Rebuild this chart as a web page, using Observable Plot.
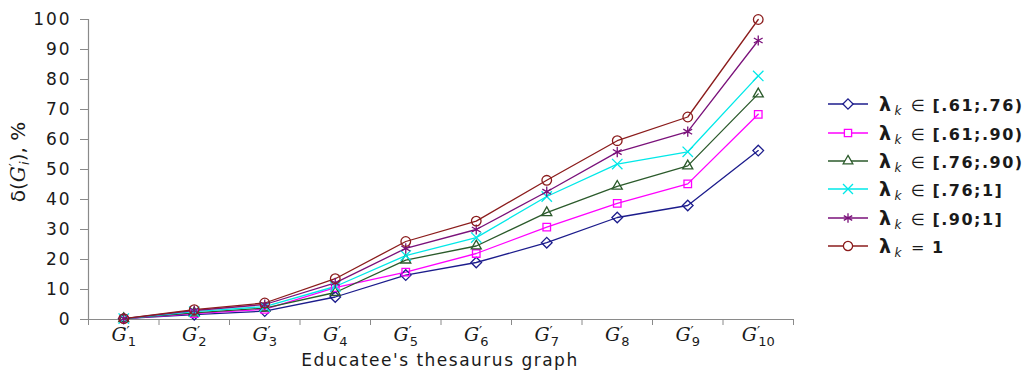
<!DOCTYPE html>
<html>
<head>
<meta charset="utf-8">
<script src="https://cdn.jsdelivr.net/npm/d3@7"></script>
<script src="https://cdn.jsdelivr.net/npm/@observablehq/plot@0.6"></script>
<style>
  html, body { margin: 0; padding: 0; background: #fff; }
  #wrap { position: relative; width: 1030px; height: 371px; overflow: hidden; font-family: "DejaVu Sans", Verdana, sans-serif; }
  #chart { position: absolute; left: 0; top: 0; }
  #legend { position: absolute; left: 826px; top: 90px; }
  .row { display: flex; align-items: center; height: 28.4px; }
  .row svg { display: block; }
  .lab { margin-left: 9px; font-size: 16px; color: #1a1a1a; font-weight: bold; letter-spacing: 1.5px; white-space: nowrap; }
  .lab .lam { font-size: 19px; }
  .lab .k { font-style: italic; font-weight: normal; font-size: 12px; position: relative; top: 4px; margin-left: 2px; }
  .lab .in { font-weight: normal; margin: 0 6px 0 8px; }
</style>
</head>
<body>
<div id="wrap"><div id="chart"></div><div id="legend"></div></div>
<script>
// ---- data ----
const categories = [1, 2, 3, 4, 5, 6, 7, 8, 9, 10];
const seriesLabels = ["∈ [.61;.76)", "∈ [.61;.90)", "∈ [.76;.90)", "∈ [.76;1]", "∈ [.90;1]", "=1"];
const seriesColors = ["#1c1c8c", "#ff00ff", "#2b5a2b", "#00e8e8", "#7a117a", "#8b1c1c"];
const seriesSymbols = ["diamond2", "square2", "triangle2", "times", "asterisk", "circle"];
const s1 = [0.3, 1.6, 2.8, 7.5, 14.8, 19.0, 25.6, 34.0, 38.0, 56.3];
const s2 = [0.3, 2.0, 3.4, 10.6, 15.8, 22.0, 30.8, 38.7, 45.2, 68.4];
const s3 = [0.3, 2.2, 3.8, 9.0, 19.8, 24.5, 35.6, 44.4, 51.2, 75.2];
const s4 = [0.3, 2.6, 4.3, 11.0, 21.3, 27.3, 41.0, 51.8, 55.9, 81.2];
const s5 = [0.3, 3.0, 5.0, 12.2, 23.7, 30.0, 42.6, 55.8, 62.6, 93.0];
const s6 = [0.3, 3.3, 5.5, 13.6, 26.0, 32.8, 46.4, 59.6, 67.5, 100];
const yTicks = [0, 10, 20, 30, 40, 50, 60, 70, 80, 90, 100];
const xBoundaries = [0.5, 1.5, 2.5, 3.5, 4.5, 5.5, 6.5, 7.5, 8.5, 9.5, 10.5];

const allSeries = [s1, s2, s3, s4, s5, s6];
const rows = [];
allSeries.forEach((vals, si) => vals.forEach((v, i) => rows.push({series: seriesLabels[si], x: categories[i], y: v})));

const textColor = "#1a1a1a";
const axisColor = "#8a8a8a";

const plot = Plot.plot({
  width: 810,
  height: 371,
  marginLeft: 88,
  marginRight: 17,
  marginTop: 19,
  marginBottom: 52,
  style: {fontFamily: "DejaVu Sans, Verdana, sans-serif", color: textColor, background: "white"},
  x: {domain: [0.5, 10.5], axis: null},
  y: {domain: [0, 100], axis: null},
  color: {domain: seriesLabels, range: seriesColors},
  symbol: {domain: seriesLabels, range: seriesSymbols},
  marks: [
    Plot.axisY({ticks: yTicks, tickSize: 8, tickPadding: 9, stroke: axisColor, fontSize: 17, label: null, tickFormat: d => String(d), fill: textColor}),
    Plot.axisX({ticks: xBoundaries, tickSize: 6, tickFormat: () => "", stroke: axisColor, label: null}),
    Plot.axisX({ticks: categories, tickSize: 0, tickPadding: 8, tickFormat: d => "G" + d, label: null, fontSize: 19, fill: textColor}),
    Plot.ruleX([0.5], {stroke: axisColor, strokeWidth: 1.2}),
    Plot.ruleY([0], {stroke: axisColor, strokeWidth: 1.2}),
    Plot.line(rows, {x: "x", y: "y", z: "series", stroke: "series", strokeWidth: 1.3}),
    Plot.dot(rows, {x: "x", y: "y", stroke: "series", symbol: "series", r: 4.8, strokeWidth: 1.3, fill: "none"})
  ]
});
document.getElementById("chart").appendChild(plot);

// letter spacing for y ticks (reference font is wide)
d3.select(plot).selectAll('g[aria-label="y-axis tick label"] text').attr("letter-spacing", "1.9px");

// x tick labels: G′ with subscript
d3.select(plot).selectAll('g[aria-label="x-axis tick label"] text').each(function() {
  const t = d3.select(this);
  const txt = t.text();
  if (!txt.startsWith("G")) return;
  const n = txt.slice(1);
  t.text("");
  t.attr("font-family", "DejaVu Serif, serif");
  t.append("tspan").attr("font-style", "italic").text("G");
  t.append("tspan").attr("font-size", 14).attr("dy", -4).text("′");
  t.append("tspan").attr("font-family", "DejaVu Sans, sans-serif").attr("font-size", 13).attr("dx", -2).attr("dy", 9).text(n);
});

// axis titles
const svg = d3.select(plot);
const yl = svg.append("text")
  .attr("transform", "translate(25,162) rotate(-90)")
  .attr("text-anchor", "middle")
  .attr("font-size", 20)
  .attr("fill", textColor)
  .attr("font-family", "DejaVu Sans, sans-serif");
yl.append("tspan").text("δ(");
yl.append("tspan").attr("font-style", "italic").attr("font-family", "DejaVu Serif, serif").text("G");
yl.append("tspan").attr("font-size", 14).attr("dy", -6).text("′");
yl.append("tspan").attr("font-size", 13).attr("font-style", "italic").attr("dx", -2).attr("dy", 10).text("i");
yl.append("tspan").attr("dy", -4).text("), %");

svg.append("text")
  .attr("x", 440)
  .attr("y", 366)
  .attr("text-anchor", "middle")
  .attr("font-size", 17)
  .attr("letter-spacing", "1.5px")
  .attr("fill", textColor)
  .attr("font-family", "DejaVu Sans, sans-serif")
  .text("Educatee's thesaurus graph");

// legend
const symMap = {diamond2: d3.symbolDiamond2, square2: d3.symbolSquare2, triangle2: d3.symbolTriangle2, times: d3.symbolTimes, asterisk: d3.symbolAsterisk, circle: d3.symbolCircle};
const legend = d3.select("#legend");
seriesLabels.forEach((lab, i) => {
  const row = legend.append("div").attr("class", "row");
  const s = row.append("svg").attr("width", 44).attr("height", 20);
  s.append("line").attr("x1", 2).attr("x2", 42).attr("y1", 10).attr("y2", 10).attr("stroke", seriesColors[i]).attr("stroke-width", 1.4);
  s.append("path").attr("transform", "translate(22,10)")
    .attr("d", d3.symbol(symMap[seriesSymbols[i]], 4.6 * 4.6 * Math.PI)())
    .attr("stroke", seriesColors[i]).attr("stroke-width", 1.3).attr("fill", "white");
  const l = row.append("span").attr("class", "lab");
  l.append("span").attr("class", "lam").text("λ");
  l.append("span").attr("class", "k").text("k");
  if (lab.startsWith("∈")) {
    l.append("span").attr("class", "in").text("∈");
    l.append("span").text(lab.slice(2));
  } else {
    l.append("span").attr("class", "in").text("=");
    l.append("span").text(lab.slice(1));
  }
});
</script>
</body>
</html>
